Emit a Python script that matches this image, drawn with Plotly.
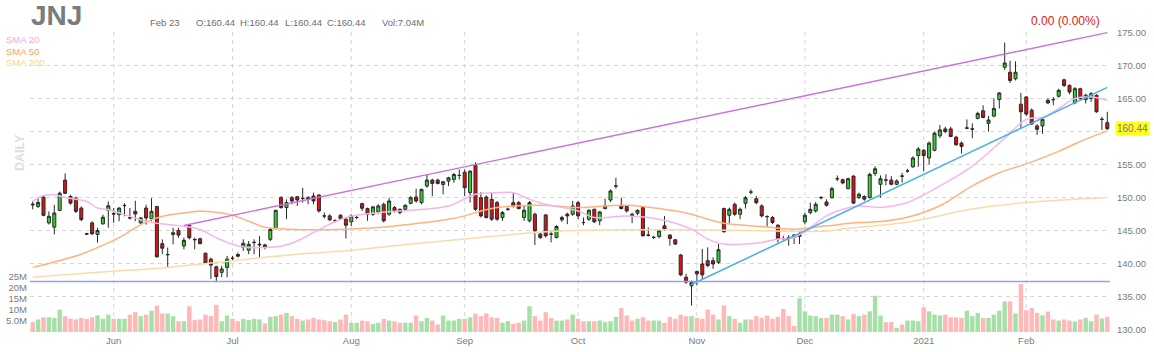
import pandas as pd
import plotly.graph_objects as go

# ---------------- data ----------------
holidays = ["2020-05-25", "2020-07-03", "2020-09-07", "2020-11-26",
            "2020-12-25", "2021-01-01", "2021-01-18", "2021-02-15"]
dates = [d.strftime("%Y-%m-%d") for d in pd.bdate_range("2020-05-08", "2021-02-23")
         if d.strftime("%Y-%m-%d") not in holidays]

opens = [
    149.0, 148.65, 150.05, 146.15, 145.5, 148.05, 152.65, 150.15, 149.9, 148.4,
    144.5, 146.15, 144.4, 146.0, 148.05, 147.55, 147.4, 148.75, 146.95, 147.9,
    146.15, 148.4, 146.75, 148.65, 143.0, 141.3, 144.4, 145.0, 142.65, 145.75,
    143.65, 143.75, 141.55, 140.65, 139.5, 138.65, 139.4, 140.8, 141.35, 142.4,
    142.0, 143.15, 142.8, 142.8, 143.65, 145.3, 149.97, 148.47, 149.97, 150.12,
    149.85, 149.97, 150.22, 150.38, 147.21, 147.21, 146.46, 147.31, 146.71, 146.31,
    146.96, 149.07, 148.32, 147.46, 147.81, 148.97, 147.46, 148.47, 148.21, 148.21,
    149.12, 150.07, 149.22, 151.73, 152.64, 152.64, 151.98, 152.49, 152.74, 153.34,
    153.84, 150.73, 154.85, 149.97, 150.07, 149.72, 149.22, 146.96, 148.21, 149.22,
    149.22, 146.96, 146.46, 147.46, 144.45, 147.36, 144.45, 143.94, 146.61, 147.46,
    147.46, 149.22, 146.21, 146.71, 148.21, 146.46, 148.32, 149.62, 151.73, 148.82,
    148.62, 147.46, 147.61, 148.47, 144.3, 143.94, 144.09, 145.7, 144.3, 143.59,
    141.28, 137.91, 136.6, 138.77, 139.92, 140.42, 140.42, 140.17, 148.32, 147.31,
    148.97, 147.46, 149.12, 150.83, 149.82, 148.72, 147.11, 146.96, 145.8, 143.79,
    143.94, 144.3, 144.09, 146.31, 147.71, 147.96, 149.97, 149.32, 149.97, 152.83,
    152.7, 151.35, 153.25, 150.0, 150.15, 150.0, 153.65, 152.0, 152.65, 152.65,
    152.0, 153.25, 154.0, 154.65, 156.35, 157.15, 156.0, 157.15, 159.35, 160.4,
    160.4, 159.15, 158.25, 160.5, 160.35, 162.0, 163.15, 161.25, 162.35, 164.85,
    169.75, 169.0, 168.0, 164.15, 165.25, 163.25, 160.85, 160.85, 164.75, 164.85,
    165.35, 167.85, 167.0, 164.35, 166.5, 164.85, 165.0, 165.5, 161.85, 161.35,
]
highs = [
    149.4, 150.0, 150.3, 147.9, 148.9, 150.9, 153.65, 150.4, 150.15, 148.65,
    144.65, 146.4, 145.4, 147.4, 149.4, 148.4, 148.5, 149.15, 148.4, 149.5,
    147.0, 148.9, 149.9, 148.7, 143.65, 142.4, 145.4, 145.4, 143.9, 145.9,
    143.9, 143.9, 141.65, 140.9, 139.65, 139.65, 141.15, 141.15, 141.65, 143.65,
    143.4, 143.65, 144.15, 143.0, 145.4, 148.15, 150.2, 149.72, 150.22, 150.22,
    151.48, 150.22, 150.73, 150.48, 147.71, 147.46, 146.71, 147.46, 146.96, 147.46,
    147.21, 149.22, 148.47, 148.72, 148.97, 149.22, 149.97, 148.72, 148.32, 148.97,
    150.22, 151.33, 151.33, 153.49, 152.84, 152.84, 152.49, 153.14, 153.74, 154.24,
    154.24, 154.14, 155.35, 150.83, 150.32, 150.83, 149.47, 147.96, 148.47, 150.73,
    149.47, 148.72, 149.47, 147.71, 144.7, 147.46, 144.95, 145.8, 147.21, 147.71,
    149.47, 149.47, 146.96, 148.21, 148.32, 147.96, 149.82, 151.23, 152.99, 149.97,
    148.82, 147.71, 148.21, 148.62, 145.45, 144.19, 145.2, 147.21, 144.45, 143.69,
    141.43, 138.42, 137.4, 138.92, 142.19, 142.44, 140.92, 142.94, 148.47, 148.47,
    149.22, 148.47, 150.22, 151.23, 150.22, 148.97, 147.31, 147.21, 145.95, 144.19,
    144.3, 144.45, 144.8, 147.71, 149.22, 149.32, 150.22, 149.72, 151.63, 153.34,
    152.85, 153.0, 153.35, 150.75, 150.35, 153.75, 154.75, 153.35, 153.5, 153.25,
    152.75, 153.75, 154.35, 156.25, 157.65, 157.35, 158.5, 160.0, 161.0, 160.75,
    160.75, 159.35, 158.5, 161.85, 161.25, 163.0, 164.0, 162.35, 165.0, 166.0,
    173.5, 170.75, 170.65, 165.85, 165.35, 163.5, 161.15, 162.0, 165.0, 165.25,
    166.5, 168.0, 167.15, 166.75, 166.65, 165.75, 166.0, 165.65, 162.25, 163.0,
]
lows = [
    148.2, 148.4, 147.15, 145.9, 144.4, 147.9, 150.5, 148.9, 147.65, 146.4,
    144.3, 144.3, 143.15, 145.9, 145.4, 146.15, 146.4, 147.15, 146.65, 146.4,
    146.0, 145.9, 146.4, 140.9, 141.4, 139.4, 142.9, 143.9, 142.15, 143.65,
    142.15, 142.9, 139.9, 137.65, 137.15, 137.9, 137.9, 140.4, 140.9, 141.9,
    141.4, 141.4, 140.9, 142.15, 143.4, 145.15, 148.3, 146.71, 148.97, 148.72,
    149.22, 148.97, 148.97, 147.71, 146.81, 146.46, 146.21, 146.61, 143.79, 145.7,
    146.71, 147.96, 146.46, 147.21, 147.46, 146.21, 147.21, 147.71, 147.46, 147.96,
    148.97, 149.22, 148.97, 151.48, 150.22, 151.98, 150.48, 151.73, 152.23, 152.74,
    150.22, 149.22, 147.96, 146.96, 146.81, 146.46, 146.46, 146.46, 147.96, 148.47,
    148.21, 146.46, 146.21, 142.79, 143.69, 143.94, 143.19, 143.79, 146.31, 145.95,
    147.21, 146.71, 145.8, 146.46, 146.1, 145.8, 148.21, 149.32, 151.33, 148.21,
    147.71, 146.1, 147.31, 144.09, 144.09, 143.69, 143.79, 144.95, 142.69, 142.79,
    138.06, 136.91, 133.6, 136.66, 137.66, 139.42, 139.17, 139.92, 144.7, 146.1,
    147.21, 146.71, 148.32, 150.48, 148.97, 146.96, 145.6, 145.95, 143.19, 143.44,
    142.69, 142.94, 142.94, 145.95, 147.46, 147.71, 149.72, 148.62, 149.82, 152.49,
    152.0, 151.25, 149.0, 149.75, 149.5, 149.85, 153.25, 150.0, 151.85, 151.85,
    151.85, 152.25, 153.75, 154.5, 154.65, 154.0, 155.0, 157.0, 159.0, 159.75,
    159.15, 157.85, 156.65, 160.35, 159.0, 161.85, 162.0, 160.0, 162.15, 163.5,
    169.35, 167.35, 167.75, 160.5, 162.35, 161.0, 159.5, 159.65, 164.15, 164.0,
    165.15, 166.75, 165.65, 164.15, 164.75, 164.25, 164.5, 162.85, 160.25, 160.25,
]
closes = [
    148.9, 149.25, 147.3, 147.15, 147.65, 150.65, 150.65, 149.15, 147.9, 146.65,
    144.45, 144.5, 145.0, 147.0, 148.75, 147.5, 148.4, 148.8, 146.9, 147.5,
    146.9, 146.9, 147.9, 141.0, 142.3, 141.35, 144.65, 144.3, 143.5, 143.9,
    143.6, 143.0, 140.0, 139.75, 138.0, 139.15, 140.65, 140.75, 141.1, 143.05,
    142.9, 143.2, 142.9, 142.5, 145.15, 148.05, 148.47, 149.22, 149.47, 149.62,
    149.87, 149.72, 149.47, 147.96, 147.2, 146.61, 146.47, 146.81, 145.8, 147.21,
    146.97, 148.37, 147.46, 148.57, 148.72, 146.46, 149.47, 147.96, 147.71, 148.82,
    149.97, 149.47, 151.23, 152.64, 152.13, 152.13, 152.39, 152.99, 153.49, 153.35,
    151.48, 153.99, 148.21, 147.21, 146.96, 146.71, 146.71, 147.71, 148.22, 148.72,
    148.32, 148.06, 149.22, 144.95, 143.94, 144.19, 144.44, 145.6, 146.96, 147.21,
    148.72, 147.21, 146.2, 148.06, 146.31, 147.81, 148.72, 150.98, 151.74, 148.32,
    147.96, 147.21, 148.06, 144.19, 144.29, 143.95, 144.95, 145.2, 143.79, 142.94,
    138.27, 137.16, 137.1, 138.42, 138.27, 139.67, 139.92, 142.08, 144.8, 148.21,
    147.46, 148.21, 149.97, 150.82, 149.22, 147.21, 147.1, 146.21, 143.79, 143.78,
    143.93, 143.94, 144.45, 147.31, 148.21, 148.97, 149.98, 148.82, 151.33, 152.84,
    152.2, 152.85, 149.15, 150.5, 149.75, 153.5, 154.35, 152.85, 152.64, 152.0,
    152.5, 153.24, 154.01, 156.0, 157.35, 156.35, 158.25, 159.75, 160.25, 160.0,
    159.25, 158.0, 157.75, 160.55, 160.4, 162.75, 162.15, 161.75, 163.5, 165.85,
    170.4, 167.75, 169.0, 163.0, 162.65, 161.15, 160.35, 161.85, 164.35, 164.84,
    166.25, 167.0, 166.0, 166.5, 165.0, 165.5, 165.75, 163.0, 161.86, 160.44,
]
volumes_m = [
    4.5, 5.7, 6.7, 6.7, 6.4, 10.2, 7.2, 6.1, 5.7, 6.4,
    6.0, 6.7, 7.6, 6.0, 7.9, 6.0, 6.0, 6.0, 7.9, 9.1,
    7.2, 7.9, 9.7, 12.0, 8.4, 8.4, 7.2, 4.9, 4.9, 11.7,
    5.4, 5.7, 7.9, 7.2, 12.4, 4.9, 7.5, 6.0, 4.9, 6.0,
    5.4, 6.0, 5.7, 3.9, 6.9, 7.2, 7.9, 8.7, 7.2, 6.0,
    5.2, 5.7, 6.4, 5.7, 5.4, 4.9, 4.5, 5.7, 7.9, 4.2,
    4.2, 5.2, 4.9, 3.7, 4.2, 6.0, 5.2, 4.9, 4.2, 4.2,
    4.2, 7.5, 4.9, 6.4, 5.2, 3.4, 7.5, 5.2, 5.2, 6.0,
    6.0, 6.7, 8.4, 7.2, 8.4, 6.7, 6.4, 4.2, 4.9, 3.7,
    4.2, 5.2, 11.7, 7.2, 5.2, 9.0, 6.4, 5.2, 5.2, 5.7,
    7.9, 6.0, 4.9, 4.9, 4.9, 5.2, 4.5, 4.9, 6.9, 10.9,
    7.5, 5.2, 6.0, 6.7, 5.2, 5.2, 5.2, 4.2, 6.9, 6.0,
    7.9, 7.2, 7.2, 6.4, 6.0, 10.2, 7.9, 5.7, 12.1, 7.2,
    6.0, 4.2, 5.7, 5.7, 7.2, 6.4, 7.5, 6.0, 6.9, 10.5,
    7.2, 2.7, 15.4, 9.4, 7.5, 7.2, 6.4, 6.4, 7.9, 7.9,
    7.2, 5.7, 8.2, 7.2, 7.9, 9.4, 16.5, 7.5, 4.5, 4.5,
    1.9, 3.4, 5.2, 5.2, 4.9, 11.2, 9.4, 7.9, 7.6, 7.9,
    6.7, 6.7, 6.4, 9.7, 7.2, 8.7, 6.4, 6.4, 7.9, 9.7,
    13.9, 13.9, 8.4, 21.9, 9.9, 10.9, 8.7, 7.6, 9.3, 5.7,
    5.2, 5.7, 5.2, 4.8, 5.7, 6.4, 4.9, 7.9, 6.1, 6.9,
]

sma20_dates = ["2020-05-08", "2020-05-12", "2020-05-14", "2020-05-18", "2020-05-22",
               "2020-05-27", "2020-05-29", "2020-06-09", "2020-06-15", "2020-06-18",
               "2020-06-23", "2020-06-26", "2020-07-01", "2020-07-06", "2020-07-10",
               "2020-07-15", "2020-07-20", "2020-07-23", "2020-07-31", "2020-08-10",
               "2020-08-18", "2020-08-27", "2020-09-03", "2020-09-10", "2020-09-15",
               "2020-09-18", "2020-09-23", "2020-10-01", "2020-10-06", "2020-10-14",
               "2020-10-22", "2020-10-30", "2020-11-04", "2020-11-09", "2020-11-18",
               "2020-11-23", "2020-11-27", "2020-12-02", "2020-12-07", "2020-12-10",
               "2020-12-15", "2020-12-21", "2020-12-29", "2021-01-07", "2021-01-15",
               "2021-01-26", "2021-02-01", "2021-02-04", "2021-02-09", "2021-02-12",
               "2021-02-18", "2021-02-23"]
sma20_values = [149.4, 150.3, 150.4, 150.0, 149.4, 148.4, 148.15, 146.4, 145.9, 145.65,
                145.15, 143.9, 142.9, 142.5, 142.4, 142.6, 143.4, 144.7, 146.96, 147.7,
                148.06, 148.7, 150.48, 150.73, 150.73, 149.72, 148.97, 147.96, 146.96, 147.21,
                146.71, 145.2, 143.69, 142.94, 143.19, 143.69, 143.94, 145.45, 147.21, 148.21,
                148.72, 148.5, 149.25, 151.75, 154.75, 159.0, 161.85, 162.15, 163.5, 165.0,
                165.25, 164.75]

sma50_dates = ["2020-05-08", "2020-05-13", "2020-05-21", "2020-05-27", "2020-06-02",
               "2020-06-05", "2020-06-10", "2020-06-15", "2020-06-18", "2020-06-23",
               "2020-06-26", "2020-07-01", "2020-07-07", "2020-07-10", "2020-07-15",
               "2020-07-23", "2020-07-31", "2020-08-10", "2020-08-18", "2020-08-27",
               "2020-09-01", "2020-09-04", "2020-09-10", "2020-09-15", "2020-09-23",
               "2020-10-01", "2020-10-06", "2020-10-14", "2020-10-22", "2020-10-30",
               "2020-11-04", "2020-11-09", "2020-11-18", "2020-11-27", "2020-12-07",
               "2020-12-15", "2020-12-21", "2020-12-29", "2021-01-07", "2021-01-15",
               "2021-01-25", "2021-02-01", "2021-02-09", "2021-02-16", "2021-02-23"]
sma50_values = [139.4, 140.0, 141.4, 142.4, 143.9, 145.4, 146.65, 147.3, 147.65, 147.9,
                147.75, 147.3, 146.4, 145.5, 145.25, 145.1, 145.2, 145.45, 145.95, 146.71,
                147.21, 147.96, 148.47, 148.72, 148.82, 148.47, 148.6, 148.82, 148.32, 147.46,
                146.71, 146.1, 145.6, 145.2, 145.7, 146.2, 146.35, 147.0, 148.75, 151.75,
                153.75, 155.1, 157.0, 158.5, 160.1]

sma200_dates = ["2020-05-08", "2020-05-27", "2020-06-15", "2020-07-01", "2020-07-20",
                "2020-07-31", "2020-08-18", "2020-09-04", "2020-09-23", "2020-10-01",
                "2020-10-14", "2020-10-30", "2020-11-18", "2020-12-07", "2020-12-10",
                "2020-12-29", "2021-01-15", "2021-02-01", "2021-02-12", "2021-02-23"]
sma200_values = [137.9, 138.65, 139.4, 140.4, 141.4, 141.93, 142.94, 143.94, 144.8, 145.0,
                 145.1, 145.1, 144.95, 144.9, 145.25, 146.25, 148.25, 149.25, 149.75, 150.0]

resistance_dates = ["2020-06-18", "2021-02-23"]
resistance_prices = [145.76, 175.0]
support_dates = ["2020-10-30", "2021-02-23"]
support_prices = [136.8, 166.7]
flat_level = 137.27

month_ticks = ["2020-06-01", "2020-07-01", "2020-08-03", "2020-09-01", "2020-10-01",
               "2020-11-02", "2020-12-01", "2021-01-04", "2021-02-01"]
month_labels = ["Jun", "Jul", "Aug", "Sep", "Oct", "Nov", "Dec", "2021", "Feb"]
price_ticks = [130, 135, 140, 145, 150, 155, 160, 165, 170, 175]
vol_ticks = [5, 10, 15, 20, 25]
vol_labels = ["5.0M", "10M", "15M", "20M", "25M"]
last_price = 160.44

# ---------------- styling ----------------
FONT = "Arial, 'Liberation Sans', sans-serif"
GRAY = "#7a7a7a"
GRID = "#d6d6d6"
DASH = "4px,4px"
UP_FILL, DOWN_FILL = "#2fd22f", "#dd1111"
UP_VOL, DOWN_VOL = "#a6e0a6", "#ffb8b8"

vol_colors = [UP_VOL if c >= o else DOWN_VOL for o, c in zip(opens, closes)]

fig = go.Figure()
fig.add_trace(go.Bar(x=dates, y=volumes_m, marker=dict(color=vol_colors, line=dict(width=0)),
                     yaxis="y", hoverinfo="skip", showlegend=False))

fig.add_trace(go.Scatter(x=sma200_dates, y=sma200_values, mode="lines", yaxis="y2",
                         line=dict(color="#f8dca8", width=1.5, shape="spline"),
                         hoverinfo="skip", showlegend=False))
fig.add_trace(go.Scatter(x=sma50_dates, y=sma50_values, mode="lines", yaxis="y2",
                         line=dict(color="#ffb27f", width=1.5, shape="spline"),
                         hoverinfo="skip", showlegend=False))
fig.add_trace(go.Scatter(x=sma20_dates, y=sma20_values, mode="lines", yaxis="y2",
                         line=dict(color="#f6b6ea", width=1.5, shape="spline"),
                         hoverinfo="skip", showlegend=False))

fig.add_trace(go.Scatter(x=resistance_dates, y=resistance_prices, mode="lines", yaxis="y2",
                         line=dict(color="#cc6fe0", width=1.4), hoverinfo="skip", showlegend=False))
fig.add_trace(go.Scatter(x=support_dates, y=support_prices, mode="lines", yaxis="y2",
                         line=dict(color="#4fb2e6", width=1.6), hoverinfo="skip", showlegend=False))

fig.add_trace(go.Candlestick(
    x=dates, open=opens, high=highs, low=lows, close=closes, yaxis="y2",
    increasing=dict(fillcolor=UP_FILL, line=dict(color="#2a2a2a", width=1)),
    decreasing=dict(fillcolor=DOWN_FILL, line=dict(color="#2a2a2a", width=1)),
    whiskerwidth=0, hoverinfo="skip", showlegend=False))

shapes = [dict(type="line", xref="paper", x0=0, x1=1, yref="y2", y0=flat_level, y1=flat_level,
               line=dict(color="#9c9cf2", width=1.5), layer="above")]
for t in month_ticks:
    shapes.append(dict(type="line", xref="x", x0=dates.index(t), x1=dates.index(t),
                       yref="paper", y0=0, y1=1, layer="below",
                       line=dict(color=GRID, width=1, dash=DASH)))

ann = []
def txt(text, px, py, size, color, xanchor="left", bold=False, **kw):
    ann.append(dict(text=f"<b>{text}</b>" if bold else text, xref="paper", yref="paper",
                    x=0, y=1, xshift=px - 30, yshift=32 - py, xanchor=xanchor, yanchor="middle",
                    showarrow=False, font=dict(family=FONT, size=size, color=color), **kw))

txt("JNJ", 29, 15, 28, "#7b7b7b", bold=True)
txt("Feb 23", 148, 22, 9.5, "#6e6e6e")
txt("O:160.44", 194, 22, 9.5, "#6e6e6e")
txt("H:160.44", 238, 22, 9.5, "#6e6e6e")
txt("L:160.44", 283, 22, 9.5, "#6e6e6e")
txt("C:160.44", 325, 22, 9.5, "#6e6e6e")
txt("Vol:7.04M", 380, 22, 9.5, "#6e6e6e")
txt("0.00 (0.00%)", 1102, 21, 12, "#dd1a1a", xanchor="right")
txt("SMA 20", 4, 39.5, 9.5, "#f3a9e2")
txt("SMA 50", 4, 51, 9.5, "#ff9d5c")
txt("SMA 200", 4, 62, 9.5, "#f3d794")
txt("DAILY", 20, 153, 12.5, "#dedede", xanchor="center", bold=True, textangle=-90)

ann.append(dict(text=f"{last_price:.2f}", xref="paper", yref="y2", x=1, y=last_price,
                xanchor="left", yanchor="middle", xshift=5, showarrow=False,
                bgcolor="#ffff1a", borderpad=1,
                font=dict(family=FONT, size=10, color="#7a7a7a")))

fig.update_layout(
    width=1154, height=352,
    margin=dict(l=30, r=44, t=32, b=20, autoexpand=False),
    paper_bgcolor="white", plot_bgcolor="white",
    font=dict(family=FONT, size=9.5, color=GRAY),
    bargap=0.18, boxgap=0.2,
    showlegend=False, hovermode=False,
    annotations=ann, shapes=shapes,
    xaxis=dict(type="category", range=[-0.5, len(dates) - 0.5], automargin=False,
               tickmode="array", tickvals=month_ticks, ticktext=month_labels,
               showgrid=False, zeroline=False, showline=False, ticks="",
               ticklabelstandoff=1,
               tickfont=dict(size=9.5, color=GRAY), rangeslider=dict(visible=False)),
    yaxis=dict(range=[0, 136.4], side="left", tickmode="array", tickvals=vol_ticks,
               ticktext=vol_labels, showgrid=False, zeroline=False, showline=False,
               automargin=False,
               ticks="", tickfont=dict(size=9.5, color=GRAY), ticklabelstandoff=2),
    yaxis2=dict(range=[129.6, 175.1], side="right", overlaying="y", tickmode="array",
                tickvals=price_ticks, tickformat=".2f", showgrid=True, gridcolor=GRID,
                griddash=DASH, gridwidth=1, zeroline=False, showline=False, ticks="",
                automargin=False,
                tickfont=dict(size=9.5, color=GRAY), ticklabelstandoff=6),
)

fig.write_html("out.html")
